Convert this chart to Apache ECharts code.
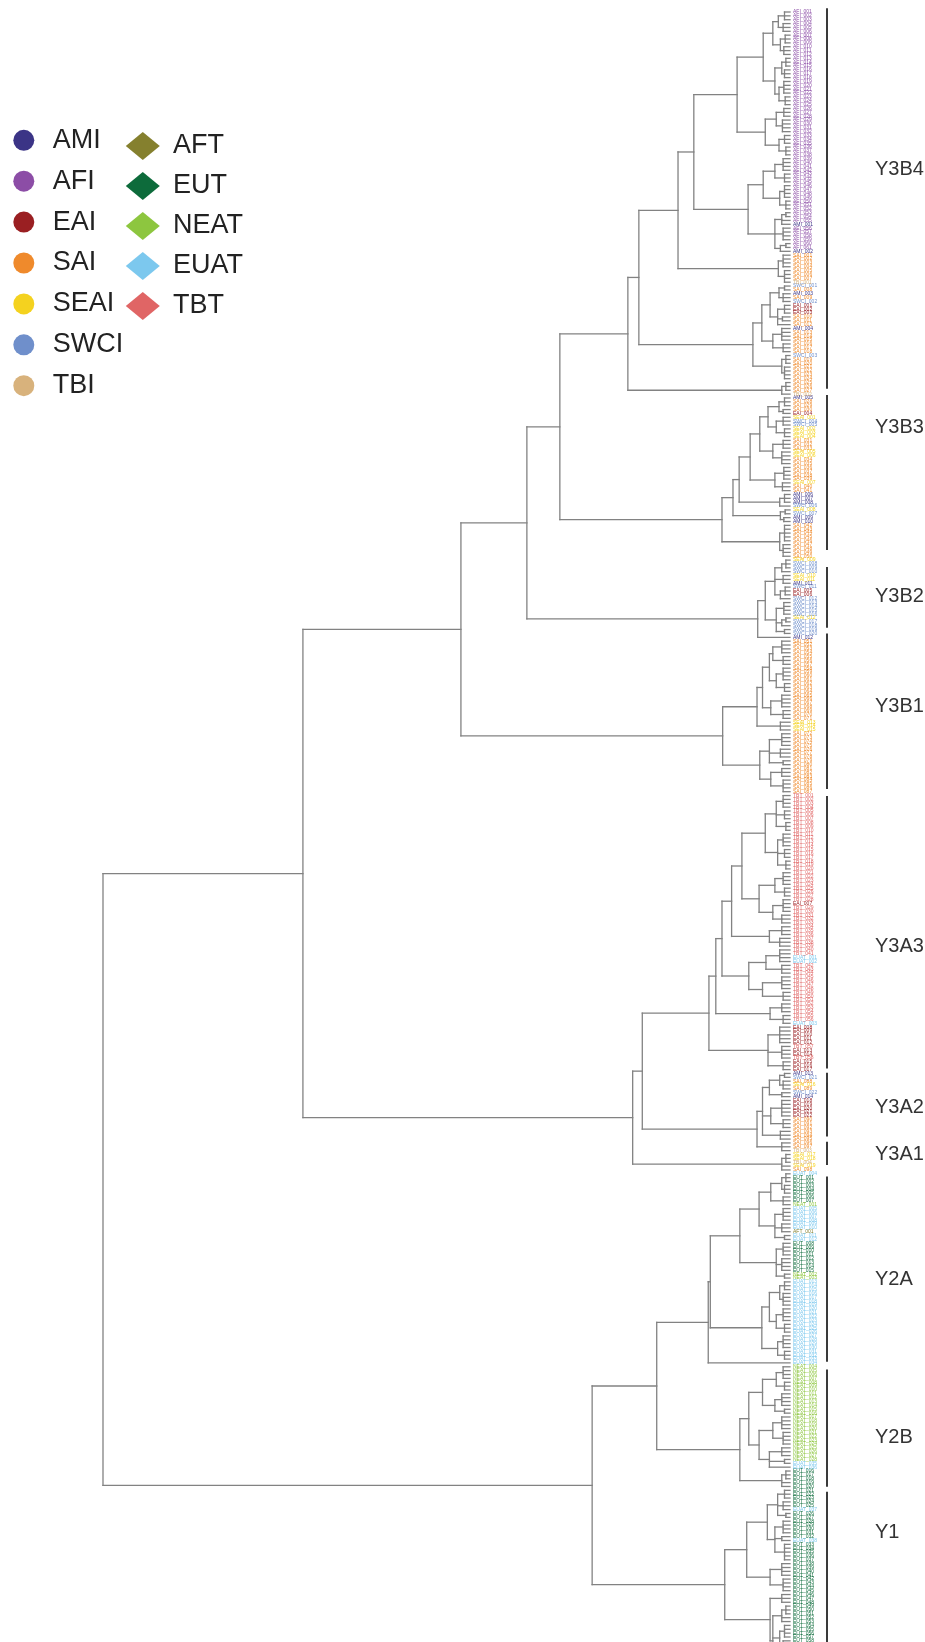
<!DOCTYPE html>
<html>
<head>
<meta charset="utf-8">
<script src="https://cdn.jsdelivr.net/npm/echarts@6/dist/echarts.min.js"></script>
<style>
  html, body { margin: 0; padding: 0; background: #ffffff; }
  #chart { width: 925px; height: 1642px; }
</style>
</head>
<body>
<div id="chart"></div>
<script>
// ---- population groups (one letter per group is used in the leaf strings below) ----
const groupNames  = ['AMI', 'AFI', 'EAI', 'SAI', 'SEAI', 'SWCI', 'TBI', 'AFT', 'EUT', 'NEAT', 'EUAT', 'TBT'];
const groupCodes  = ['m', 'f', 'e', 's', 'y', 'w', 't', 'o', 'u', 'n', 'b', 'r'];
const groupColors = ['#3b3486', '#8c4da6', '#9a1f22', '#ef8a2c', '#f4d21f', '#6f8fcb', '#d8b27c',
                     '#85802e', '#0d6b3b', '#8dc63f', '#7cc8ee', '#e06565'];
const groupIcons  = ['circle', 'circle', 'circle', 'circle', 'circle', 'circle', 'circle',
                     'diamond', 'diamond', 'diamond', 'diamond', 'diamond'];

// ---- clades: [height, child, child, ...]; a string child is a run of leaves (one letter each) ----
const Y3B4_P1 = [0.039,
  [0.025, [0.017, [0.008, 'fff'], [0.010, 'fff']], [0.014, [0.007, 'fff'], [0.009, 'fff']]],
  [0.022, [0.012, [0.006, 'fff'], [0.008, 'fff']], [0.016, [0.009, 'ffff'], [0.007, 'fff']]]];
const Y3B4_P2 = [0.036, [0.020, [0.009, 'fff'], [0.011, 'ffff']], [0.016, [0.008, 'fff'], [0.006, 'fff']]];
const Y3B4_P3 = [0.039, [0.022, [0.010, 'ffff'], [0.008, 'fff']], [0.015, [0.008, 'ffff'], [0.006, 'fff']]];
const Y3B4_P4 = [0.022, [0.012, [0.006, 'ff'], 'fm'], [0.010, 'ffff'], [0.014, [0.006, 'ff'], 'm']];
const Y3B4_O  = [0.017, [0.010, 'ssss'], [0.008, 'ssst']];
const Y3B4_M1 = [0.029, [0.016, [0.008, 'ws'], [0.010, 'msw']], [0.018, [0.008, 'eee'], [0.011, 'ss'], 's']];
const Y3B4_M2 = [0.025, [0.012, 'msss'], [0.010, 'sss']];
const Y3B4_M3 = [0.012, [0.006, 'wss'], [0.008, 'ssss']];
const Y3B4_B  = [0.012, [0.006, 'sss'], 't'];
const Y3B4 = [0.236,
  [0.220,
    [0.163, [0.140, [0.077, Y3B4_P1, Y3B4_P2], [0.061, Y3B4_P3, Y3B4_P4]], Y3B4_O],
    [0.054, [0.041, Y3B4_M1, Y3B4_M2], Y3B4_M3]],
  Y3B4_B];

const Y3B3 = [0.099,
  [0.083,
    [0.074,
      [0.058,
        [0.044,
          [0.032, [0.016, [0.008, 'mss'], [0.010, 'se']], [0.020, [0.010, 'yww'], [0.008, 'yyy']]],
          [0.025, [0.010, 'sss'], [0.012, 'yyss']]],
        [0.022, [0.009, 'ssss'], [0.011, 'yss']]],
      [0.015, [0.008, 'mmm'], 'w']],
    [0.014, [0.007, 'yw'], [0.009, 'mm']]],
  [0.015, [0.008, 'sssss'], [0.010, 'ssss']]];

const Y3B2 = [0.047,
  [0.036,
    [0.022, [0.012, [0.006, 'yww'], 'w'], [0.010, 'yym'], [0.014, [0.007, 'wee'], 'w']],
    [0.020, [0.009, 'wwww'], [0.012, [0.006, 'yw'], 'w'], [0.008, 'ww']]],
  'm'];

const Y3B1 = [0.098,
  [0.048,
    [0.040,
      [0.030, [0.025, [0.012, 'ssss'], [0.010, 'sss']], [0.020, [0.010, 'ssss'], [0.008, 'sss']]],
      [0.028, [0.012, 'ssss'], [0.010, 'sss']]],
    [0.014, 'yyy']],
  [0.044,
    [0.030, [0.012, 'ssss'], [0.014, 'sss'], [0.010, 'ss']],
    [0.028, [0.012, 'sss'], [0.010, 'ssss']]]];

// Y3A3 is a ladder: the large TBT block, then a small twig, then the EAI block
const Y3A3_E1 = [0.036,
  [0.020, [0.010, 'rrrr'], [0.008, 'rrr'], [0.006, 'rrr']],
  [0.018, [0.010, 'rrrr'], [0.008, 'rrr'], [0.006, 'rrr']]];
const Y3A3_E2 = [0.045, [0.022, [0.010, 'rrrr'], [0.008, 'rrr']], [0.025, [0.010, 'rerr'], [0.012, 'rrr']]];
const Y3A3_D2 = [0.030, [0.012, 'rrr'], [0.015, 'rrr']];
const Y3A3_C2 = [0.060, [0.035, [0.015, 'rrbb'], [0.012, 'rrr']], [0.040, [0.012, 'rrrr'], [0.010, 'rrr']]];
const Y3A3_twig = [0.029, [0.012, 'rrr'], [0.010, 'rrb']];
const Y3A3_eai  = [0.032, [0.015, 'eeeee'], [0.012, 'reer'], [0.010, 'eee']];
const Y3A3 = [0.118,
  [0.108, [0.099, [0.085, [0.070, Y3A3_E1, Y3A3_E2], Y3A3_D2], Y3A3_C2], Y3A3_twig],
  Y3A3_eai];

const Y3A2 = [0.048,
  [0.040,
    [0.030, [0.015, [0.008, 'mw'], [0.010, 'sys']], [0.012, 'wm']],
    [0.028, [0.012, 'eeeee'], [0.010, 'sss']],
    [0.014, 'sss']],
  [0.012, 'sst']];

const Y3A1 = [0.012, [0.006, 'yyt'], 'ys'];

const Y2A = [0.119,
  [0.116,
    [0.073,
      [0.045,
        [0.028, [0.012, [0.006, 'buu'], [0.008, 'uuu']], [0.010, 'uun']],
        [0.022, [0.010, 'bbbb'], [0.012, 'bbo'], [0.008, 'bb']]],
      [0.020, [0.010, 'uuuu'], [0.012, 'uuuu'], [0.008, 'nn']]],
    [0.041,
      [0.030, [0.015, [0.008, 'bbb'], [0.010, 'bbbb']], [0.020, [0.010, 'bbbb'], [0.008, 'bbb']]],
      [0.018, [0.010, 'bbbb'], [0.008, 'bbb']]]],
  'b'];

const Y2B = [0.073,
  [0.060,
    [0.040, [0.020, [0.010, 'nnnn'], [0.008, 'nnn']], [0.022, [0.012, 'nnnn'], [0.008, 'nn']]],
    [0.045, [0.025, [0.012, 'nnnn'], [0.010, 'nnnn']], [0.030, [0.012, 'nnn'], [0.008, 'nb'], 'b']]],
  [0.012, [0.006, 'uuu'], 'uu']];

// Y1 runs on past the lower edge of the panel
const Y1_upper = [0.063,
  [0.033,
    [0.018, [0.008, 'uuu'], [0.010, 'uub'], [0.006, 'uu']],
    [0.022, [0.010, 'uuuu'], [0.012, 'ub'], [0.008, 'uuuuu']]],
  [0.029, [0.012, 'uuuu'], [0.010, 'uuuu']]];
const Y1_lower = [0.029,
  [0.012, 'uuu'],
  [0.025,
    [0.012, [0.006, 'uuu'], 'uu'],
    [0.015, [0.008, 'uuuu'], [0.010, 'uuu']],
    [0.018, [0.010, 'uuuu'], [0.008, 'uuuu']]]];
const Y1 = [0.095, Y1_upper, Y1_lower];

const tree = [1.000,
  [0.709,
    [0.479, [0.383, [0.335, Y3B4, Y3B3], Y3B2], Y3B1],
    [0.229, [0.215, Y3A3, Y3A2], Y3A1]],
  [0.288, [0.194, Y2A, Y2B], Y1]];

// number of leaf rows that fit between the top and bottom edges
const visibleLeaves = 422;

// ---- clade brackets: clade, inset of the bar ends (leaf units), name position (leaf-index units) ----
const cladeNames  = ['Y3B4', 'Y3B3', 'Y3B2', 'Y3B1', 'Y3A3', 'Y3A2', 'Y3A1', 'Y2A', 'Y2B', 'Y1'];
const cladeNodes  = [Y3B4, Y3B3, Y3B2, Y3B1, Y3A3, Y3A2, Y3A1, Y2A, Y2B, Y1];
const cladeInsetTop    = [-1.0, -0.8, 1.8, -2.0, 0.1, -0.2, -3.3, 0.7, 0.7, 0.4];
const cladeInsetBottom = [ 1.4,  1.6, 2.5,  0.7, 0.3,  3.7,  1.3, 0.3, -0.1, 0.0];
const cladeLabelY = [40.7, 107.6, 151.3, 179.8, 242.0, 283.7, 296.1, 328.5, 369.2, 393.8];

// ---- walk the tree: leaves get consecutive indices, nodes sit midway between outer children ----
const segments = [];   // [h1, y1, h2, y2]
const leafCodes = [];
const spans = new Map();
function walk(node) {
  const h = node[0];
  const ys = [];
  const first = leafCodes.length;
  for (let k = 1; k < node.length; k++) {
    const child = node[k];
    if (typeof child === 'string') {
      for (const ch of child) {
        const y = leafCodes.length;
        leafCodes.push(ch);
        segments.push([h, y, 0, y]);
        ys.push(y);
      }
    } else {
      const y = walk(child);
      segments.push([h, y, child[0], y]);
      ys.push(y);
    }
  }
  segments.push([h, ys[0], h, ys[ys.length - 1]]);
  spans.set(node, [first, leafCodes.length - 1]);
  return (ys[0] + ys[ys.length - 1]) / 2;
}
walk(tree);

// leaf labels per group (sample ids numbered within each group)
const groupLeaves = groupNames.map(() => []);
const groupLabels = groupNames.map(() => []);
leafCodes.forEach((c, i) => {
  const g = groupCodes.indexOf(c);
  groupLeaves[g].push([0, i]);
  groupLabels[g].push(groupNames[g] + '_' + String(groupLeaves[g].length).padStart(3, '0'));
});

const brackets = cladeNodes.map((n, i) => [
  0,
  spans.get(n)[0] + cladeInsetTop[i],
  spans.get(n)[1] - cladeInsetBottom[i],
  cladeLabelY[i]
]);

const FONT = '"Liberation Sans", Arial, Helvetica, sans-serif';

const series = [];
series.push({
  type: 'custom',
  name: 'tree',
  silent: true,
  clip: false,
  data: segments,
  encode: { x: [0, 2], y: [1, 3] },
  renderItem: (params, api) => {
    const a = api.coord([api.value(0), api.value(1)]);
    const b = api.coord([api.value(2), api.value(3)]);
    return {
      type: 'line',
      shape: { x1: a[0], y1: a[1], x2: b[0], y2: b[1] },
      style: { stroke: '#828282', lineWidth: 1.3, lineCap: 'square' }
    };
  }
});
groupNames.forEach((name, g) => {
  series.push({
    type: 'custom',
    name: name,
    silent: true,
    clip: false,
    itemStyle: { color: groupColors[g] },
    data: groupLeaves[g],
    encode: { x: 0, y: 1 },
    renderItem: (params, api) => {
      const p = api.coord([api.value(0), api.value(1)]);
      return {
        type: 'text',
        x: p[0] + 3,
        y: p[1],
        style: {
          text: groupLabels[g][params.dataIndex],
          fill: groupColors[g],
          font: '5px ' + FONT,
          textVerticalAlign: 'middle',
          textAlign: 'left'
        }
      };
    }
  });
});
series.push({
  type: 'custom',
  name: 'clades',
  silent: true,
  clip: false,
  data: brackets,
  encode: { x: 0, y: 1 },
  renderItem: (params, api) => {
    const top = api.coord([0, api.value(1)]);
    const bot = api.coord([0, api.value(2)]);
    const lab = api.coord([0, api.value(3)]);
    return {
      type: 'group',
      children: [
        { type: 'line', shape: { x1: top[0] + 37, y1: top[1], x2: bot[0] + 37, y2: bot[1] },
          style: { stroke: '#3a3a3a', lineWidth: 2 } },
        { type: 'text', x: lab[0] + 85, y: lab[1],
          style: { text: cladeNames[params.dataIndex], fill: '#333333', font: '20px ' + FONT,
                   textVerticalAlign: 'middle', textAlign: 'left' } }
      ]
    };
  }
});

const chart = echarts.init(document.getElementById('chart'), null, { renderer: 'canvas' });
chart.setOption({
  animation: false,
  backgroundColor: '#ffffff',
  grid: { left: 103, right: 135, top: 12, bottom: 5, containLabel: false },
  xAxis: { type: 'value', min: 0, max: 1, inverse: true, show: false },
  yAxis: { type: 'value', min: 0, max: visibleLeaves - 1, inverse: true, show: false },
  legend: [
    {
      orient: 'vertical', left: 8.3, top: 121.8,
      itemWidth: 40, itemHeight: 21, itemGap: 13.9,
      selectedMode: false,
      textStyle: { fontSize: 27, color: '#222222', fontFamily: FONT, lineHeight: 22, padding: [0, 0, 0, 4] },
      data: groupNames.slice(0, 7).map((n, i) => ({ name: n, icon: groupIcons[i] }))
    },
    {
      orient: 'vertical', left: 120.8, top: 127,
      itemWidth: 34, itemHeight: 28, itemGap: 12,
      selectedMode: false,
      textStyle: { fontSize: 27, color: '#222222', fontFamily: FONT, lineHeight: 22, padding: [0, 0, 0, 8.2] },
      data: groupNames.slice(7).map((n, i) => ({ name: n, icon: groupIcons[i + 7] }))
    }
  ],
  series: series
});
</script>
</body>
</html>
